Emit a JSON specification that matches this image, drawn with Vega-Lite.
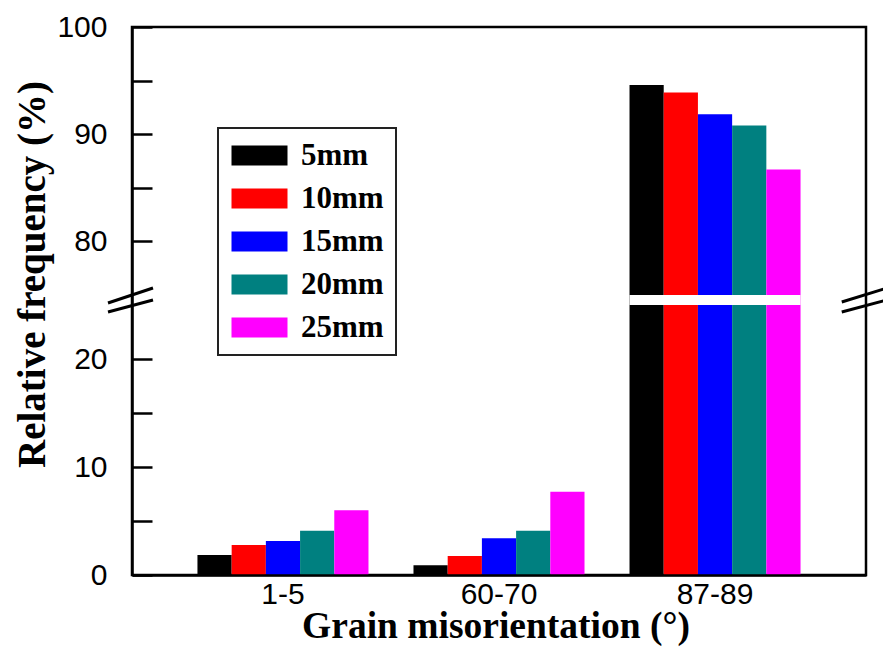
{
  "$schema": "https://vega.github.io/schema/vega-lite/v6.json",
  "width": 734,
  "height": 548,
  "autosize": {"type": "none"},
  "padding": {"left": 132, "top": 27, "right": 17, "bottom": 88},
  "background": "white",
  "config": {
    "view": {"stroke": "black", "strokeWidth": 2.5},
    "legend": {"strokeColor": "#222222", "strokeWidth": 2}
  },
  "datasets": {
    "bars": [
      {"group": "1-5", "size": "5mm", "value": 1.85},
      {"group": "1-5", "size": "10mm", "value": 2.78},
      {"group": "1-5", "size": "15mm", "value": 3.15},
      {"group": "1-5", "size": "20mm", "value": 4.1},
      {"group": "1-5", "size": "25mm", "value": 6.0},
      {"group": "60-70", "size": "5mm", "value": 0.9},
      {"group": "60-70", "size": "10mm", "value": 1.76},
      {"group": "60-70", "size": "15mm", "value": 3.4},
      {"group": "60-70", "size": "20mm", "value": 4.1},
      {"group": "60-70", "size": "25mm", "value": 7.7},
      {"group": "87-89", "size": "5mm", "value": 94.6},
      {"group": "87-89", "size": "10mm", "value": 93.9},
      {"group": "87-89", "size": "15mm", "value": 91.85},
      {"group": "87-89", "size": "20mm", "value": 90.8},
      {"group": "87-89", "size": "25mm", "value": 86.7}
    ],
    "gap": [
      {"group": "87-89", "lo": 25, "hi": 75}
    ],
    "breaks": [
      {"bx": -3.27, "by": 35, "bx2": 2.86, "by2": 75.65},
      {"bx": -3.27, "by": 24.35, "bx2": 2.86, "by2": 50},
      {"bx": 96.7, "by": 40, "bx2": 103.0, "by2": 75.68},
      {"bx": 96.7, "by": 24.35, "bx2": 103.0, "by2": 51.5}
    ]
  },
  "layer": [
    {
      "data": {"name": "bars"},
      "mark": {"type": "bar"},
      "encoding": {
        "x": {
          "field": "group",
          "type": "nominal",
          "scale": {"domain": ["1-5", "60-70", "87-89"], "paddingInner": 0.2083, "paddingOuter": 0.303},
          "axis": {
            "ticks": false,
            "labelAngle": 0,
            "labelFont": "Liberation Sans",
            "labelFontSize": 30,
            "labelColor": "black",
            "labelPadding": 4,
            "domainColor": "black",
            "domainWidth": 2.5,
            "title": "Grain misorientation (°)",
            "titleFont": "Liberation Serif",
            "titleFontWeight": "bold",
            "titleFontSize": 37.5,
            "titleColor": "black",
            "titleBaseline": "alphabetic",
            "titleAlign": "center",
            "titleX": 363.5,
            "titleY": 62,
            "zindex": 1
          }
        },
        "xOffset": {
          "field": "size",
          "type": "nominal",
          "scale": {"domain": ["5mm", "10mm", "15mm", "20mm", "25mm"], "paddingInner": 0, "paddingOuter": 0}
        },
        "y": {
          "field": "value",
          "type": "quantitative",
          "scale": {"domain": [0, 25, 75, 100], "range": [548, 278, 268, 0], "nice": false, "zero": false},
          "axis": {
            "values": [0, 5, 10, 15, 20, 80, 85, 90, 95, 100],
            "labelExpr": "datum.value % 10 === 0 ? datum.label : ''",
            "grid": false,
            "tickSize": -20,
            "tickWidth": 2.5,
            "tickColor": "black",
            "domainColor": "black",
            "domainWidth": 2.5,
            "labelFont": "Liberation Sans",
            "labelFontSize": 30,
            "labelColor": "black",
            "labelPadding": 45,
            "title": "Relative frequency (%)",
            "titleFont": "Liberation Serif",
            "titleFontWeight": "bold",
            "titleFontSize": 39,
            "titleColor": "black",
            "titleAngle": -90,
            "titleAlign": "center",
            "titleBaseline": "alphabetic",
            "titleX": -88,
            "titleY": 247,
            "zindex": 1,
            "encode": {
              "ticks": {"update": {"x2": {"signal": "datum.value % 10 === 0 ? 20 : 11"}}}
            }
          }
        },
        "color": {
          "field": "size",
          "type": "nominal",
          "scale": {
            "domain": ["5mm", "10mm", "15mm", "20mm", "25mm"],
            "range": ["#000000", "#FF0000", "#0000FF", "#008080", "#FF00FF"]
          },
          "legend": {
            "orient": "none",
            "legendX": 86,
            "legendY": 101,
            "direction": "vertical",
            "title": null,
            "fillColor": "white",
            "strokeColor": "#222222",
            "padding": 12,
            "symbolType": "M-1,-0.72H3V0.72H-1Z",
            "symbolSize": 784,
            "symbolStrokeWidth": 0,
            "symbolOpacity": 1,
            "labelFont": "Liberation Serif",
            "labelFontWeight": "bold",
            "labelFontSize": 31,
            "labelColor": "black",
            "labelOffset": 40,
            "rowPadding": 11
          }
        }
      }
    },
    {
      "data": {"name": "gap"},
      "mark": {"type": "rect", "color": "white"},
      "encoding": {
        "x": {
          "field": "group",
          "type": "nominal",
          "scale": {"domain": ["1-5", "60-70", "87-89"], "paddingInner": 0.2083, "paddingOuter": 0.303},
          "axis": null
        },
        "y": {"field": "lo", "type": "quantitative"},
        "y2": {"field": "hi"}
      }
    },
    {
      "data": {"name": "breaks"},
      "mark": {"type": "rule", "color": "black", "strokeWidth": 3, "clip": false},
      "encoding": {
        "x": {"field": "bx", "type": "quantitative", "scale": {"domain": [0, 100], "nice": false, "zero": false}, "axis": null},
        "x2": {"field": "bx2"},
        "y": {"field": "by", "type": "quantitative"},
        "y2": {"field": "by2"}
      }
    }
  ],
  "resolve": {"scale": {"x": "independent"}}
}
